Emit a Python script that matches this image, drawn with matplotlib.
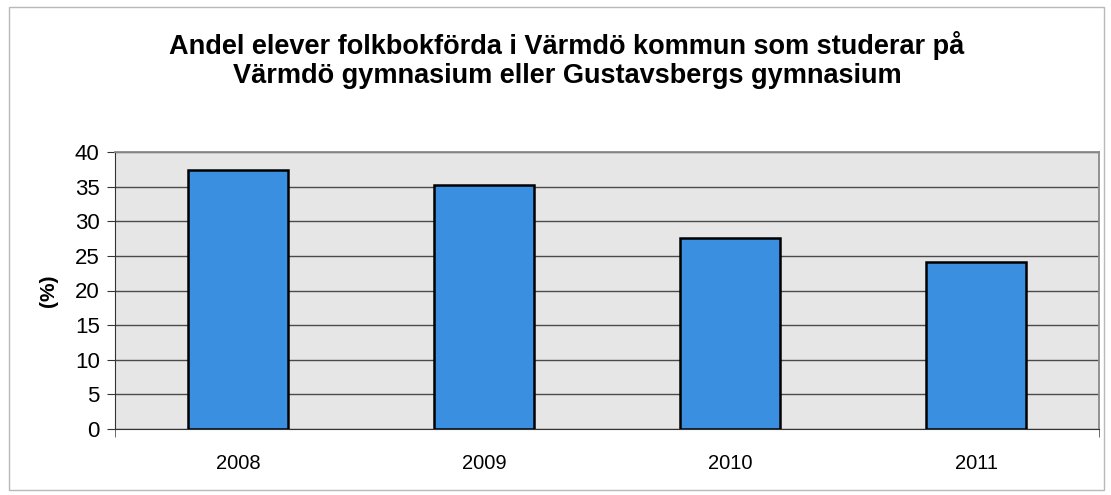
import matplotlib
matplotlib.use("Agg")
import matplotlib.pyplot as plt
from matplotlib.patches import Rectangle

years = ["2008", "2009", "2010", "2011"]
values = [37.4, 35.2, 27.6, 24.1]
yticks = [0, 5, 10, 15, 20, 25, 30, 35, 40]

plt.rcParams['font.family'] = ['Liberation Sans', 'DejaVu Sans']

fig = plt.figure(figsize=(11.11, 4.95), dpi=100)
fig.patch.set_facecolor("white")
fig.patches.append(Rectangle((0.008, 0.01), 0.986, 0.975, transform=fig.transFigure,
                             fill=False, edgecolor="#b8b8b8", linewidth=1.0))

ax = fig.add_axes([115/1111, 1-429/495, (1099-115)/1111, (429-152)/495])
ax.set_facecolor("#e6e6e6")
x = range(len(years))
ax.bar(x, values, width=0.41, color="#3b8fe0", edgecolor="black", linewidth=1.8, zorder=3)
ax.set_xlim(-0.5, len(years) - 0.5)
ax.set_ylim(0, 40)
ax.set_yticks(yticks)
ax.set_xticks(list(x))
ax.set_xticklabels(years)
ax.set_xticks([-0.5, len(years) - 0.5], minor=True)
ax.yaxis.grid(True, color="#4a4a4a", linewidth=1.0, zorder=1)
ax.set_axisbelow(True)
for s in ["top", "right"]:
    ax.spines[s].set_color("#8a8a8a")
    ax.spines[s].set_linewidth(1.3)
ax.spines["left"].set_color("#333333")
ax.spines["bottom"].set_color("#333333")
ax.tick_params(axis="y", labelsize=16, length=6, color="#333333", pad=5)
ax.tick_params(axis="x", which="major", labelsize=14.5, length=0, pad=18)
ax.tick_params(axis="x", which="minor", length=6, color="#555555")
ax.set_ylabel("(%)", fontsize=15, fontweight="bold", labelpad=12)

fig.text(567/1111, 1-45/495, "Andel elever folkbokförda i Värmdö kommun som studerar på",
         ha="center", va="center", fontsize=19.5, fontweight="bold")
fig.text(567/1111, 1-76/495, "Värmdö gymnasium eller Gustavsbergs gymnasium",
         ha="center", va="center", fontsize=19.5, fontweight="bold")

fig.savefig("out.png", dpi=100)
